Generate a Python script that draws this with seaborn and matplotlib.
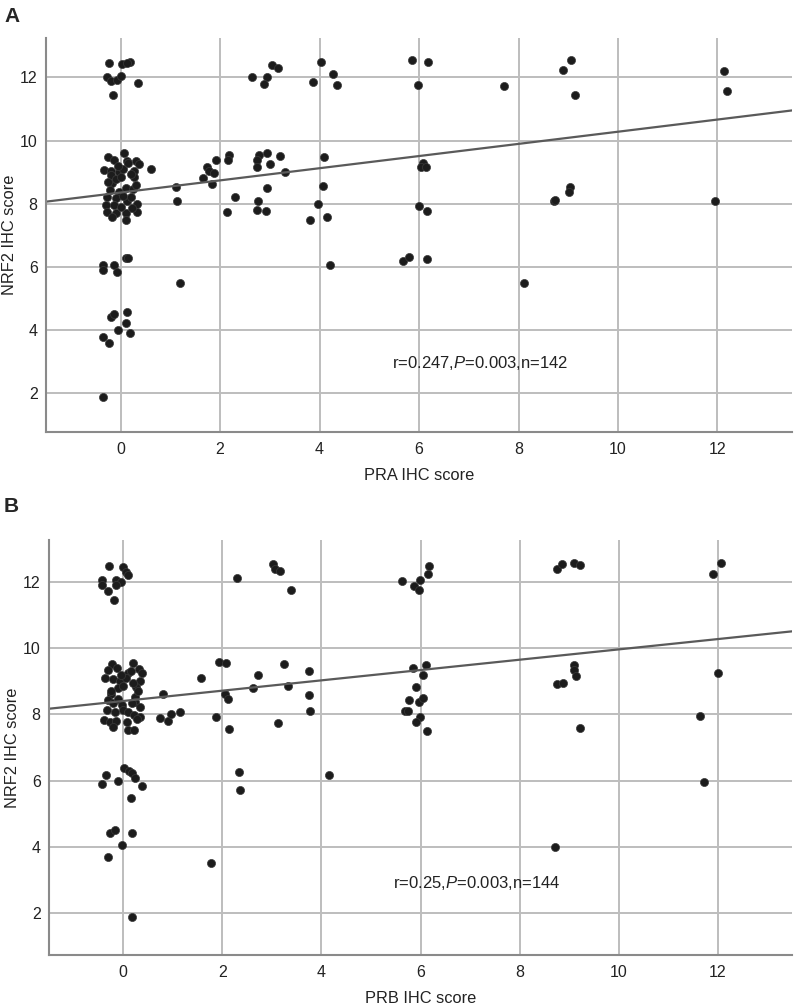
import matplotlib
matplotlib.use("Agg")
import matplotlib.pyplot as plt
import seaborn as sns
import pandas as pd

# ---- panel A: PRA vs NRF2 ----
pra_x = [
    -0.27, -0.2, -0.08, 0.0, -0.24, 0.02, 0.19, -0.15, 0.36, 0.13,
    2.65, 2.95, 2.88, 3.05, 3.16,
    4.02, 3.87, 4.27, 4.35,
    5.86, 6.19, 5.97, 7.71, 9.06, 8.9, 9.14, 12.13, 12.19,
    -0.33, -0.25, -0.13, 0.07, 0.12, 0.3, 0.37, -0.2, -0.03, 0.27, 0.62,
    -0.17, 0.27, -0.21, -0.04, 0.1, 0.24, -0.27, -0.1, -0.3, -0.13, 0.13,
    0.33, -0.27, -0.1, 0.1, 0.33, 0.1, -0.17, 0.05, 0.2, 0.0, 0.22, -0.2, 0.3,
    -0.1, 0.05, 0.2, -0.25, 0.15, 0.0, -0.05,
    1.12, 1.14,
    1.65, 1.74, 1.78, 1.87, 1.83, 1.92, 2.18, 2.16, 2.31, 2.13,
    2.78, 2.75, 2.95, 2.75, 3.01, 3.21, 3.31, 2.95, 2.77, 2.75, 2.93,
    4.08, 4.06, 3.97, 3.8, 4.15,
    6.08, 6.04, 6.14, 5.99, 6.17,
    9.04, 9.02, 8.72, 8.73, 11.95,
    -0.36, -0.36, -0.13, -0.08, 0.1, 0.15, 1.2, 4.22,
    -0.2, -0.14, 0.12, 0.1, -0.06, -0.35, -0.23, 0.18, -0.36,
    5.68, 5.8, 6.16, 8.11,
]
pra_nrf2 = [
    12.0, 11.9, 11.92, 12.05, 12.47, 12.42, 12.5, 11.46, 11.84, 12.47,
    12.0, 12.0, 11.8, 12.38, 12.3,
    12.5, 11.85, 12.12, 11.75,
    12.54, 12.5, 11.75, 11.72, 12.56, 12.25, 11.46, 12.22, 11.56,
    9.08, 9.47, 9.4, 9.6, 9.34, 9.37, 9.27, 9.05, 9.0, 9.05, 9.09,
    8.65, 8.84, 8.42, 8.37, 8.49, 8.46, 8.2, 8.17, 7.95, 7.95, 8.1,
    8.0, 7.73, 7.7, 7.7, 7.73, 7.5, 7.57, 8.25, 8.2, 7.9, 7.85, 8.9, 8.6,
    8.8, 9.1, 8.95, 8.7, 9.3, 8.85, 9.2,
    8.52, 8.08,
    8.83, 9.18, 9.05, 8.97, 8.64, 9.4, 9.53, 9.4, 8.2, 7.73,
    9.53, 9.4, 9.6, 9.15, 9.25, 9.5, 9.0, 8.5, 8.1, 7.8, 7.77,
    9.47, 8.55, 8.0, 7.5, 7.57,
    9.28, 9.15, 9.15, 7.92, 7.77,
    8.52, 8.37, 8.1, 8.13, 8.08,
    6.05, 5.9, 6.05, 5.83, 6.27, 6.27, 5.5, 6.05,
    4.4, 4.52, 4.57, 4.22, 4.0, 3.77, 3.58, 3.9, 1.88,
    6.2, 6.3, 6.24, 5.5,
]

# ---- panel B: PRB vs NRF2 ----
prb_x = [
    -0.28, -0.43, -0.42, -0.3, -0.19, -0.15, -0.05, -0.14, 0.0, 0.05, 0.09,
    2.29, 3.02, 3.07, 3.16, 3.38,
    5.62, 5.86, 5.97, 5.98, 6.16, 6.18,
    8.75, 8.85, 9.1, 9.21, 11.9, 12.07,
    -0.23, -0.3, -0.13, -0.36, -0.2, -0.07, 0.09, 0.19, 0.31, 0.38, 0.33,
    0.26, 0.24, 0.24, -0.25, -0.3, -0.2, -0.1, -0.03, 0.17, 0.33, -0.33,
    -0.17, 0.0, 0.1, 0.21, 0.34, -0.38, -0.26, -0.14, -0.2, 0.07, 0.1,
    0.21, 0.27,
    -0.1, 0.05, 0.2, -0.25, 0.15, 0.0, -0.05, 0.3,
    0.8, 0.75, 0.9, 0.97, 1.14, 1.57, 1.94, 2.08, 2.06, 2.11, 1.87, 2.14,
    2.62, 2.72, 3.13, 3.24, 3.32, 3.74, 3.74, 3.77,
    5.84, 6.11, 6.05, 5.91, 5.76, 5.97, 6.05, 5.69, 5.74, 5.99, 5.91, 6.14,
    9.09, 9.1, 9.14, 8.75, 8.87, 9.21, 12.01, 11.64,
    -0.43, -0.35, -0.1, 0.01, 0.12, 0.17, 0.24, 0.38, 0.15,
    -0.27, -0.17, 0.17, -0.03, -0.3, 0.17,
    1.77, 2.33, 2.35, 4.15, 11.72, 8.72,
]
prb_nrf2 = [
    12.47, 12.05, 11.9, 11.73, 11.47, 12.05, 12.0, 11.9, 12.45, 12.3, 12.22,
    12.13, 12.53, 12.38, 12.32, 11.77,
    12.03, 11.87, 11.75, 12.05, 12.23, 12.48,
    12.4, 12.55, 12.57, 12.52, 12.25, 12.57,
    9.52, 9.34, 9.39, 9.09, 9.06, 9.01, 9.26, 9.54, 9.37, 9.26, 9.01,
    8.82, 8.53, 8.37, 8.63, 8.43, 8.33, 8.45, 8.28, 8.33, 8.23, 8.13,
    8.08, 8.13, 8.08, 7.98, 7.93, 7.83, 7.78, 7.8, 7.63, 7.78, 7.53,
    7.53, 7.87,
    8.8, 9.1, 8.95, 8.7, 9.3, 8.85, 9.2, 8.7,
    8.63, 7.88, 7.8, 8.0, 8.08, 9.09, 9.59, 9.56, 8.61, 8.48, 7.91, 7.56,
    8.79, 9.19, 7.75, 9.51, 8.85, 9.32, 8.58, 8.1,
    9.41, 9.49, 9.19, 8.84, 8.43, 8.36, 8.51, 8.11, 8.11, 7.93, 7.78, 7.51,
    9.49, 9.35, 9.16, 8.92, 8.96, 7.58, 9.26, 7.96,
    5.9, 6.17, 6.0, 6.37, 6.3, 6.22, 6.07, 5.85, 5.46,
    4.43, 4.51, 4.43, 4.06, 3.69, 1.88,
    3.51, 6.27, 5.72, 6.17, 5.95, 3.99,
]

x_ticks = [0, 2, 4, 6, 8, 10, 12]
y_ticks = [2, 4, 6, 8, 10, 12]
stat_a = "r=0.247,$\\mathit{P}$=0.003,n=142"
stat_b = "r=0.25,$\\mathit{P}$=0.003,n=144"

df_a = pd.DataFrame({"x": pra_x, "y": pra_nrf2})
df_b = pd.DataFrame({"x": prb_x, "y": prb_nrf2})

sns.set_theme(style="whitegrid")
plt.rcParams["font.family"] = ["Liberation Sans", "DejaVu Sans"]
plt.rcParams["mathtext.fontset"] = "custom"
plt.rcParams["mathtext.rm"] = "Liberation Sans"
plt.rcParams["mathtext.it"] = "Liberation Sans:italic"

fig = plt.figure(figsize=(7.98, 10.08), dpi=100)
ax_a = fig.add_axes([0.0576, 0.5714, 0.935, 0.3909])
ax_b = fig.add_axes([0.0614, 0.0526, 0.9311, 0.4117])


def draw_panel(ax, df, xlabel, stat_text, ylim, stat_y):
    ax.set_xlim(-1.5, 13.5)
    ax.set_ylim(*ylim)
    sns.regplot(data=df, x="x", y="y", ax=ax, ci=None, truncate=False,
                scatter_kws=dict(s=34, color="#1c1c1c", edgecolor="#3a3a3a",
                                 linewidths=0.5, alpha=1),
                line_kws=dict(color="#5a5a5a", lw=1.6))
    ax.set_xticks(x_ticks)
    ax.set_yticks(y_ticks)
    ax.grid(True, color="#bdbdbd", lw=1.4)
    ax.set_axisbelow(True)
    for side in ["top", "right"]:
        ax.spines[side].set_visible(False)
    for side in ["left", "bottom"]:
        ax.spines[side].set_visible(True)
        ax.spines[side].set_color("#8a8a8a")
        ax.spines[side].set_linewidth(1.5)
    ax.tick_params(axis="both", length=0, labelsize=11.5, colors="#222222")
    ax.tick_params(axis="x", pad=7)
    ax.tick_params(axis="y", pad=6)
    ax.set_xlabel(xlabel, fontsize=11.8, color="#222222", labelpad=8)
    ax.set_ylabel("NRF2 IHC score", fontsize=11.8, color="#222222", labelpad=2)
    ax.text(5.45, stat_y, stat_text, fontsize=12, color="#222222",
            ha="left", va="center")


draw_panel(ax_a, df_a, "PRA IHC score", stat_a, (0.77, 13.25), 2.95)
draw_panel(ax_b, df_b, "PRB IHC score", stat_b, (0.73, 13.27), 2.91)

fig.text(0.005, 0.993, "A", fontsize=15, fontweight="bold", va="top", ha="left")
fig.text(0.005, 0.507, "B", fontsize=15, fontweight="bold", va="top", ha="left")

fig.savefig("out.png", dpi=100, facecolor="white")
